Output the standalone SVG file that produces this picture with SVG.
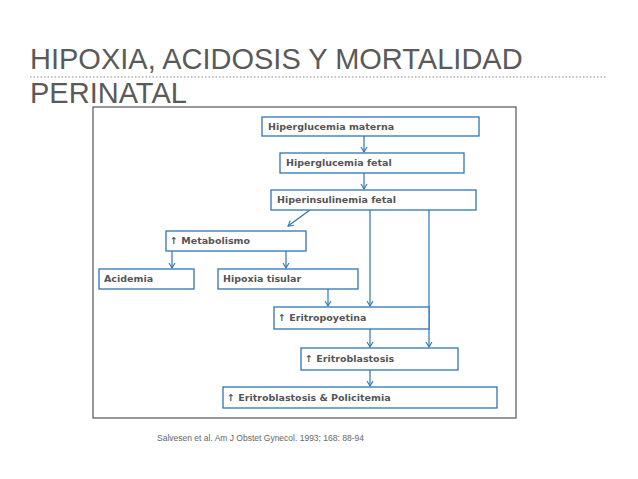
<svg xmlns="http://www.w3.org/2000/svg" width="638" height="479" viewBox="0 0 638 479">
<style>
.b rect{fill:#fff;stroke:#2e75b6;stroke-width:1.3}
.b text{font-family:Verdana,"DejaVu Sans",sans-serif;font-weight:bold;font-size:9.5px;fill:#555}
.c line{stroke:#2e75b6;stroke-width:1.2;marker-end:url(#a)}
.c line.n{marker-end:none}
</style>
<defs><marker id="a" markerWidth="8" markerHeight="8" refX="6" refY="4" orient="auto" markerUnits="userSpaceOnUse"><path d="M1,1 L6,4 L1,7" fill="none" stroke="#2e75b6" stroke-width="1.1"/></marker></defs>
<rect width="638" height="479" fill="#fff"/>
<text x="30" y="69" font-family="Liberation Sans,Arial,sans-serif" font-size="29" fill="#5a5a5a">HIPOXIA, ACIDOSIS Y MORTALIDAD</text>
<text x="30" y="103" font-family="Liberation Sans,Arial,sans-serif" font-size="29" fill="#5a5a5a">PERINATAL</text>
<line x1="30" y1="77" x2="606" y2="77" stroke="#888" stroke-width="1" stroke-dasharray="1.5,2"/>
<rect x="93" y="107" width="423" height="311" fill="none" stroke="#555" stroke-width="1.2"/>
<g class="c" id="connectors">
<line x1="364" y1="136" x2="364" y2="152"/>
<line x1="364" y1="173" x2="364" y2="189"/>
<line x1="310" y1="210" x2="288" y2="226"/>
<line x1="172" y1="251" x2="172" y2="268"/>
<line x1="286" y1="251" x2="286" y2="268"/>
<line x1="328" y1="289" x2="328" y2="306"/>
<line x1="370" y1="210" x2="370" y2="306"/>
<line class="n" x1="429" y1="210" x2="429" y2="330"/>
<line x1="429" y1="330" x2="429" y2="347"/>
<line x1="370" y1="329" x2="370" y2="347"/>
<line x1="370" y1="370" x2="370" y2="386"/>
</g>
<g class="b" id="n1"><rect x="262" y="117" width="217" height="19"/><text x="268" y="130">Hiperglucemia materna</text></g>
<g class="b" id="n2"><rect x="280" y="153" width="184" height="20"/><text x="286" y="166">Hiperglucemia fetal</text></g>
<g class="b" id="n3"><rect x="271" y="190" width="205" height="20"/><text x="277" y="203">Hiperinsulinemia fetal</text></g>
<g class="b" id="n4"><rect x="166" y="231" width="140" height="20"/><text x="170" y="244">↑ Metabolismo</text></g>
<g class="b" id="n5"><rect x="99" y="269" width="95" height="20"/><text x="104" y="282">Acidemia</text></g>
<g class="b" id="n6"><rect x="218" y="269" width="140" height="20"/><text x="223" y="282">Hipoxia tisular</text></g>
<g class="b" id="n7"><rect x="274" y="307" width="155" height="22"/><text x="278" y="321">↑ Eritropoyetina</text></g>
<g class="b" id="n8"><rect x="301" y="348" width="157" height="22"/><text x="305" y="362">↑ Eritroblastosis</text></g>
<g class="b" id="n9"><rect x="223" y="387" width="274" height="21"/><text x="227" y="401">↑ Eritroblastosis &amp; Policitemia</text></g>
<text x="157" y="441" font-family="Liberation Sans,Arial,sans-serif" font-size="8.5" fill="#666">Salvesen et al. Am J Obstet Gynecol. 1993; 168: 88-94</text>
</svg>
